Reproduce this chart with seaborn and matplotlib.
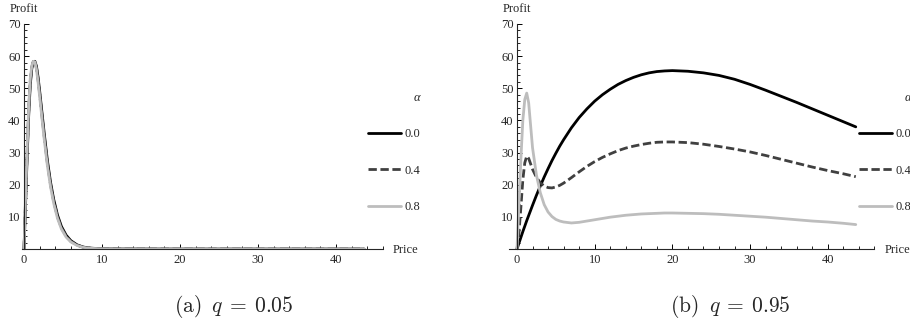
import numpy as np
import pandas as pd
import seaborn as sns
import matplotlib.pyplot as plt
from matplotlib.ticker import MultipleLocator

# values
alpha_levels = ["0.0", "0.4", "0.8"]

price_a = [0, 0.2, 0.4, 0.6, 0.8, 1.0, 1.2, 1.4, 1.6, 1.8, 2.0, 2.3, 2.6, 3.0,
           3.4, 3.8, 4.3, 4.8, 5.4, 6.0, 6.8, 7.6, 8.6, 10, 12, 20, 30, 43.6]
profit_a_00 = [0, 14, 28.5, 41.5, 51, 56.2, 58.3, 58.4, 56.8, 53.5, 49.3, 42.5,
               35.8, 27.5, 20.8, 15.5, 10.5, 7.0, 4.3, 2.6, 1.3, 0.6, 0.25,
               0.08, 0.02, 0, 0, 0]
profit_a_04 = [0, 15, 30, 43, 52, 56.6, 58.3, 58.3, 56.3, 52.8, 48.5, 41.6,
               34.9, 26.7, 20.1, 14.9, 10.0, 6.6, 4.0, 2.4, 1.2, 0.55, 0.22,
               0.07, 0.02, 0, 0, 0]
profit_a_08 = [0, 16, 31, 44, 53, 57, 58.4, 58.2, 55.8, 52.0, 47.6, 40.7,
               34.0, 25.9, 19.4, 14.3, 9.5, 6.2, 3.7, 2.2, 1.1, 0.5, 0.2,
               0.06, 0.01, 0, 0, 0]

price_b = [0, 0.25, 0.5, 0.75, 1.0, 1.25, 1.5, 1.75, 2.0, 2.5, 3.0, 3.5, 4.0,
           4.5, 5.0, 5.5, 6.0, 7, 8, 9, 10, 11, 12, 13, 14, 15, 16, 17, 18,
           19, 20, 22, 24, 26, 28, 30, 32, 34, 36, 38, 40, 42, 43.6]
profit_b_00 = [0, 1.8, 3.6, 5.4, 7.1, 8.8, 10.4, 12.0, 13.6, 16.7, 19.6, 22.4,
               25.0, 27.5, 29.8, 32.0, 34.0, 37.7, 40.9, 43.6, 46.0, 48.0,
               49.7, 51.2, 52.4, 53.4, 54.2, 54.8, 55.2, 55.4, 55.5, 55.3,
               54.8, 54.0, 52.8, 51.2, 49.4, 47.5, 45.6, 43.6, 41.6, 39.6, 38.0]
profit_b_04 = [0, 5, 13, 21.5, 26.8, 28.9, 28.2, 26.5, 24.8, 22.3, 20.6, 19.6,
               19.1, 19.0, 19.3, 19.8, 20.5, 22.2, 24.0, 25.7, 27.2, 28.5,
               29.6, 30.6, 31.4, 32.0, 32.5, 32.9, 33.2, 33.3, 33.3, 33.1,
               32.6, 31.9, 31.1, 30.2, 29.1, 27.9, 26.7, 25.5, 24.4, 23.4, 22.5]
profit_b_08 = [0, 14, 28, 40, 46.5, 48.5, 45.5, 38.5, 31.5, 23, 17.5, 13.8,
               11.5, 10.1, 9.2, 8.7, 8.4, 8.1, 8.3, 8.7, 9.1, 9.5, 9.9, 10.2,
               10.5, 10.7, 10.9, 11.0, 11.1, 11.2, 11.2, 11.1, 11.0, 10.8,
               10.5, 10.2, 9.9, 9.5, 9.1, 8.7, 8.4, 8.0, 7.6]


def long_frame(price, series):
    parts = []
    for level, vals in zip(alpha_levels, series):
        parts.append(pd.DataFrame({"Price": price, "Profit": vals, "α": level}))
    return pd.concat(parts, ignore_index=True)


df_a = long_frame(price_a, [profit_a_00, profit_a_04, profit_a_08])
df_b = long_frame(price_b, [profit_b_00, profit_b_04, profit_b_08])

sns.set_style("ticks")
plt.rcParams["font.family"] = ["Liberation Serif", "DejaVu Serif"]
plt.rcParams["mathtext.fontset"] = "cm"

palette = {"0.0": "#000000", "0.4": "#404040", "0.8": "#bdbdbd"}
dashes = {"0.0": "", "0.4": (3.0, 1.3), "0.8": ""}
small = 9

W, H = 910, 327
fig = plt.figure(figsize=(W / 100, H / 100), dpi=100)


def make_panel(df, x0, scale, xmin, caption, cap_x, leg_x):
    left = x0 + xmin * scale
    right = x0 + 46 * scale
    ax = fig.add_axes([left / W, (H - 249) / H, (right - left) / W, 225 / H])
    sns.lineplot(data=df, x="Price", y="Profit", hue="α", style="α",
                 palette=palette, dashes=dashes, linewidth=2.0, sort=False,
                 estimator=None, ax=ax)
    ax.set_xlim(xmin, 46)
    ax.set_ylim(0, 70)
    ax.spines["left"].set_position(("data", 0))
    for s in ["top", "right"]:
        ax.spines[s].set_visible(False)
    for s in ["left", "bottom"]:
        ax.spines[s].set_linewidth(0.8)
    ax.xaxis.set_major_locator(MultipleLocator(10))
    ax.xaxis.set_minor_locator(MultipleLocator(2))
    ax.yaxis.set_minor_locator(MultipleLocator(2))
    ax.set_yticks([10, 20, 30, 40, 50, 60, 70])
    ax.tick_params(which="both", direction="in", labelsize=small, color="black")
    ax.tick_params(which="major", length=3.5, width=0.7)
    ax.tick_params(which="minor", length=2, width=0.6)
    ax.tick_params(axis="y", pad=2.5)
    ax.tick_params(axis="x", pad=3.5)
    ax.set_xlabel("")
    ax.set_ylabel("")

    handles, labels = ax.get_legend_handles_labels()
    leg = ax.legend(handles, labels, title="α", loc="upper left",
                    bbox_to_anchor=(leg_x / W, 1 - 92 / H),
                    bbox_transform=fig.transFigure, frameon=False,
                    fontsize=small, handlelength=2.65, handletextpad=0.25,
                    labelspacing=1.95, borderpad=0, borderaxespad=0,
                    alignment="right")
    leg.get_title().set_fontsize(small)
    leg.get_title().set_fontstyle("italic")

    fig.text((x0 - 14) / W, 1 - 9 / H, "Profit", fontsize=small,
             ha="left", va="center")
    fig.text((right + 10) / W, 1 - 250 / H, "Price", fontsize=small,
             ha="left", va="center")
    fig.text(cap_x / W, 1 - 307 / H, caption, fontsize=15.5,
             ha="center", va="center")
    return ax


make_panel(df_a, 24, 7.8, -0.3, r"$\mathrm{(a)}\;\;q\:=\:0.05$", 234, 368)
make_panel(df_b, 517, 7.77, -1.0, r"$\mathrm{(b)}\;\;q\:=\:0.95$", 730, 859)

fig.savefig("out.png", dpi=100)
